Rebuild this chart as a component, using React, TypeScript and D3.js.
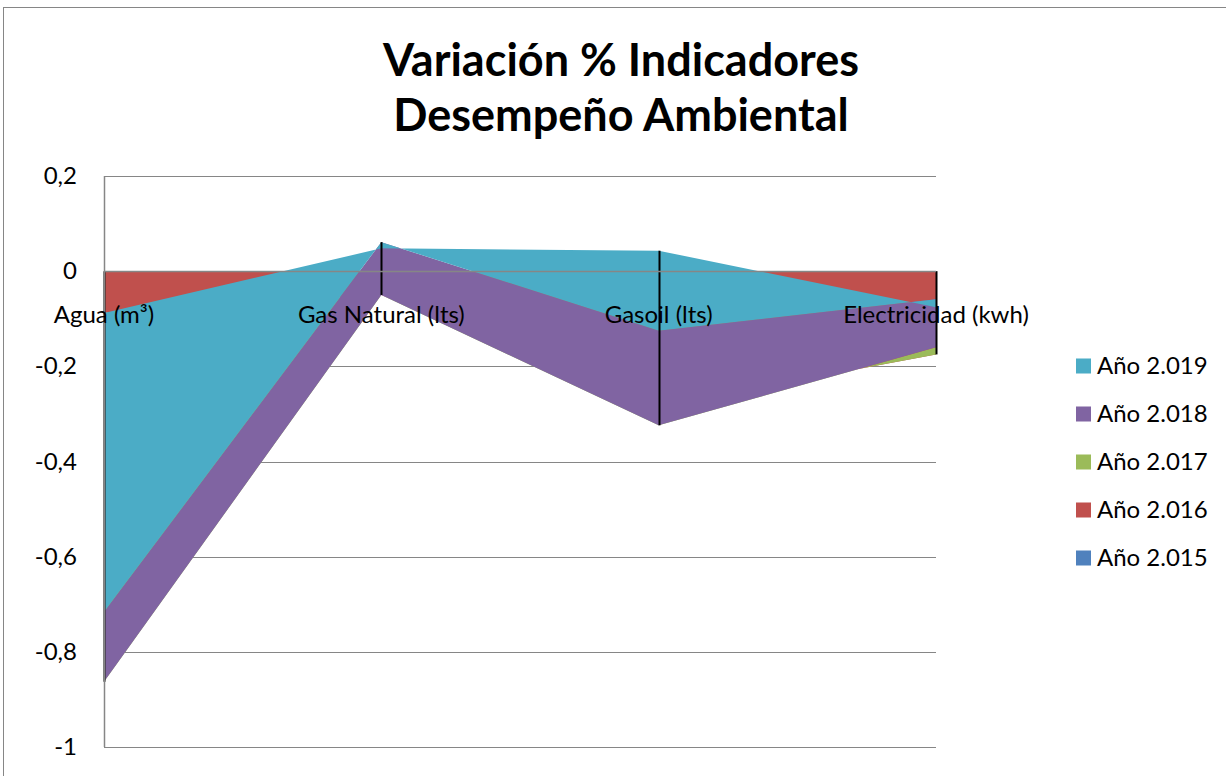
import React, { useEffect, useRef } from 'react';
import * as d3 from 'd3';

// categories on the x axis
const categories = ['Agua (m³)', 'Gas Natural (lts)', 'Gasoil (lts)', 'Electricidad (kwh)'];

// series, in stacking order (first one at the base of the stack)
const seriesNames = ['Año 2.015', 'Año 2.016', 'Año 2.017', 'Año 2.018', 'Año 2.019'];
const values2015 = [0, 0, 0, 0];
const values2016 = [-0.088, -0.05, -0.284, -0.175];
const values2017 = [-0.775, 0, -0.04, 0.015];
const values2018 = [0.147, 0.111, 0.199, 0.101];
const values2019 = [0.628, -0.013, 0.168, -0.017];
const seriesColors = ['#4F81BD', '#C0504D', '#9BBB59', '#8064A2', '#4BACC6'];

// value axis
const yTicks = [0.2, 0, -0.2, -0.4, -0.6, -0.8, -1];

const titleLines = ['Variación % Indicadores', 'Desempeño Ambiental'];

const WIDTH = 1226;
const HEIGHT = 776;
const FONT = 'Lato, Calibri, Carlito, sans-serif';

export default function App() {
  const ref = useRef<SVGSVGElement>(null);

  useEffect(() => {
    const svg = d3.select(ref.current);
    svg.selectAll('*').remove();

    const allValues = [values2015, values2016, values2017, values2018, values2019];
    const rows = categories.map((c, i) => {
      const row: any = { category: c };
      seriesNames.forEach((s, k) => {
        row[s] = allValues[k][i];
      });
      return row;
    });

    // stackOffsetNone keeps the running sum, negatives included (same as Excel)
    const stacked = d3
      .stack()
      .keys(seriesNames)
      .order(d3.stackOrderNone)
      .offset(d3.stackOffsetNone)(rows);

    const margin = { top: 176, left: 104, right: 290, bottom: 29 };
    const x = d3
      .scalePoint()
      .domain(categories)
      .range([margin.left, WIDTH - margin.right]);
    const y = d3
      .scaleLinear()
      .domain([-1, 0.2])
      .range([HEIGHT - margin.bottom, margin.top]);

    // chart frame
    svg
      .append('rect')
      .attr('x', 3.5)
      .attr('y', 7.5)
      .attr('width', WIDTH + 20)
      .attr('height', HEIGHT + 20)
      .attr('fill', '#fff')
      .attr('stroke', '#868686')
      .attr('stroke-width', 1);

    // title
    svg
      .append('g')
      .selectAll('text')
      .data(titleLines)
      .enter()
      .append('text')
      .attr('x', 621)
      .attr('y', (d, i) => 76 + i * 55)
      .attr('text-anchor', 'middle')
      .attr('font-family', FONT)
      .attr('font-weight', 'bold')
      .attr('font-size', 45)
      .attr('fill', '#000')
      .text((d) => d);

    // gridlines (behind the areas)
    svg
      .append('g')
      .selectAll('line')
      .data(yTicks.filter((t) => t !== 0))
      .enter()
      .append('line')
      .attr('x1', x.range()[0])
      .attr('x2', x.range()[1])
      .attr('y1', (d) => Math.round(y(d)) + 0.5)
      .attr('y2', (d) => Math.round(y(d)) + 0.5)
      .attr('stroke', '#868686')
      .attr('stroke-width', 1);

    // stacked areas, drawn in series order
    const area = d3
      .area<any>()
      .x((d) => x(d.data.category) as number)
      .y0((d) => y(d[0]))
      .y1((d) => y(d[1]));

    svg
      .append('g')
      .selectAll('path')
      .data(stacked)
      .enter()
      .append('path')
      .attr('d', (d) => area(d as any))
      .attr('fill', (d, i) => seriesColors[i]);

    // drop lines, spanning the whole stack at each category
    const dropData = categories.map((c, i) => {
      const pts = [0];
      stacked.forEach((s) => {
        pts.push(s[i][0], s[i][1]);
      });
      return { category: c, min: d3.min(pts) as number, max: d3.max(pts) as number };
    });
    svg
      .append('g')
      .selectAll('line')
      .data(dropData)
      .enter()
      .append('line')
      .attr('x1', (d) => Math.round(x(d.category) as number) + 0.5)
      .attr('x2', (d) => Math.round(x(d.category) as number) + 0.5)
      .attr('y1', (d) => y(d.max))
      .attr('y2', (d) => y(d.min))
      .attr('stroke', '#000')
      .attr('stroke-width', 2);

    // axis lines on top
    svg
      .append('line')
      .attr('x1', x.range()[0])
      .attr('x2', x.range()[1])
      .attr('y1', Math.round(y(0)) + 0.5)
      .attr('y2', Math.round(y(0)) + 0.5)
      .attr('stroke', '#868686')
      .attr('stroke-width', 1.5);
    svg
      .append('line')
      .attr('x1', x.range()[0] + 0.5)
      .attr('x2', x.range()[0] + 0.5)
      .attr('y1', y(0.2))
      .attr('y2', y(-1))
      .attr('stroke', '#868686')
      .attr('stroke-width', 1.5);

    // value axis labels
    svg
      .append('g')
      .selectAll('text')
      .data(yTicks)
      .enter()
      .append('text')
      .attr('x', 77)
      .attr('y', (d) => y(d) + 8)
      .attr('text-anchor', 'end')
      .attr('font-family', FONT)
      .attr('font-size', 24)
      .attr('fill', '#000')
      .text((d) => d3.format('~g')(d).replace('.', ',').replace('−', '-'));

    // category labels sit just under the zero line
    svg
      .append('g')
      .selectAll('text')
      .data(categories)
      .enter()
      .append('text')
      .attr('x', (d) => x(d) as number)
      .attr('y', y(0) + 52)
      .attr('text-anchor', 'middle')
      .attr('font-family', FONT)
      .attr('font-size', 24)
      .attr('fill', '#000')
      .text((d) => d);

    // legend, last series first
    const legendItems = seriesNames.map((s, i) => ({ name: s, color: seriesColors[i] })).reverse();
    const legend = svg
      .append('g')
      .selectAll('g')
      .data(legendItems)
      .enter()
      .append('g')
      .attr('transform', (d, i) => 'translate(1076,' + (366 + i * 48) + ')');
    legend
      .append('rect')
      .attr('x', 0)
      .attr('y', -7.5)
      .attr('width', 15)
      .attr('height', 15)
      .attr('fill', (d) => d.color);
    legend
      .append('text')
      .attr('x', 21)
      .attr('y', 8)
      .attr('font-family', FONT)
      .attr('font-size', 24)
      .attr('fill', '#000')
      .text((d) => d.name);
  }, []);

  return (
    <svg
      ref={ref}
      width={WIDTH}
      height={HEIGHT}
      style={{ position: 'absolute', left: 0, top: 0, display: 'block' }}
    />
  );
}
